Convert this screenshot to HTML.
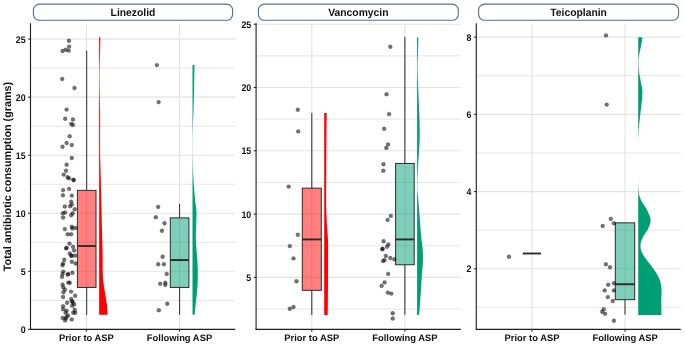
<!DOCTYPE html>
<html><head><meta charset="utf-8"><style>
html,body{margin:0;padding:0;background:#fff;}
body{width:685px;height:345px;position:relative;overflow:hidden;}
text{font-family:"Liberation Sans",sans-serif;font-weight:bold;fill:#111;text-rendering:geometricPrecision;}
.tk{font-size:9.6px;}
.xl{font-size:9.4px;}
.st{font-size:10.7px;}
.yt{font-size:10.8px;}
</style></head><body>
<svg width="685" height="345" viewBox="0 0 685 345" style="position:absolute;left:0;top:0;will-change:transform">
<line x1="30.5" x2="235.2" y1="300.33" y2="300.33" stroke="#e3e3e3" stroke-width="0.9"/>
<line x1="30.5" x2="235.2" y1="242.28" y2="242.28" stroke="#e3e3e3" stroke-width="0.9"/>
<line x1="30.5" x2="235.2" y1="184.23" y2="184.23" stroke="#e3e3e3" stroke-width="0.9"/>
<line x1="30.5" x2="235.2" y1="126.18" y2="126.18" stroke="#e3e3e3" stroke-width="0.9"/>
<line x1="30.5" x2="235.2" y1="68.13" y2="68.13" stroke="#e3e3e3" stroke-width="0.9"/>
<line x1="30.5" x2="235.2" y1="271.30" y2="271.30" stroke="#e3e3e3" stroke-width="1.1"/>
<line x1="30.5" x2="235.2" y1="213.25" y2="213.25" stroke="#e3e3e3" stroke-width="1.1"/>
<line x1="30.5" x2="235.2" y1="155.20" y2="155.20" stroke="#e3e3e3" stroke-width="1.1"/>
<line x1="30.5" x2="235.2" y1="97.15" y2="97.15" stroke="#e3e3e3" stroke-width="1.1"/>
<line x1="30.5" x2="235.2" y1="39.10" y2="39.10" stroke="#e3e3e3" stroke-width="1.1"/>
<line x1="86.4" x2="86.4" y1="23.2" y2="329.35" stroke="#e3e3e3" stroke-width="1.1"/>
<line x1="179.5" x2="179.5" y1="23.2" y2="329.35" stroke="#e3e3e3" stroke-width="1.1"/>
<line x1="256.1" x2="460.9" y1="309.05" y2="309.05" stroke="#e3e3e3" stroke-width="0.9"/>
<line x1="256.1" x2="460.9" y1="245.75" y2="245.75" stroke="#e3e3e3" stroke-width="0.9"/>
<line x1="256.1" x2="460.9" y1="182.45" y2="182.45" stroke="#e3e3e3" stroke-width="0.9"/>
<line x1="256.1" x2="460.9" y1="119.15" y2="119.15" stroke="#e3e3e3" stroke-width="0.9"/>
<line x1="256.1" x2="460.9" y1="55.85" y2="55.85" stroke="#e3e3e3" stroke-width="0.9"/>
<line x1="256.1" x2="460.9" y1="277.40" y2="277.40" stroke="#e3e3e3" stroke-width="1.1"/>
<line x1="256.1" x2="460.9" y1="214.10" y2="214.10" stroke="#e3e3e3" stroke-width="1.1"/>
<line x1="256.1" x2="460.9" y1="150.80" y2="150.80" stroke="#e3e3e3" stroke-width="1.1"/>
<line x1="256.1" x2="460.9" y1="87.50" y2="87.50" stroke="#e3e3e3" stroke-width="1.1"/>
<line x1="256.1" x2="460.9" y1="24.20" y2="24.20" stroke="#e3e3e3" stroke-width="1.1"/>
<line x1="311.8" x2="311.8" y1="23.2" y2="329.35" stroke="#e3e3e3" stroke-width="1.1"/>
<line x1="404.9" x2="404.9" y1="23.2" y2="329.35" stroke="#e3e3e3" stroke-width="1.1"/>
<line x1="476.3" x2="680.8" y1="307.41" y2="307.41" stroke="#e3e3e3" stroke-width="0.9"/>
<line x1="476.3" x2="680.8" y1="230.19" y2="230.19" stroke="#e3e3e3" stroke-width="0.9"/>
<line x1="476.3" x2="680.8" y1="152.97" y2="152.97" stroke="#e3e3e3" stroke-width="0.9"/>
<line x1="476.3" x2="680.8" y1="75.75" y2="75.75" stroke="#e3e3e3" stroke-width="0.9"/>
<line x1="476.3" x2="680.8" y1="268.80" y2="268.80" stroke="#e3e3e3" stroke-width="1.1"/>
<line x1="476.3" x2="680.8" y1="191.58" y2="191.58" stroke="#e3e3e3" stroke-width="1.1"/>
<line x1="476.3" x2="680.8" y1="114.36" y2="114.36" stroke="#e3e3e3" stroke-width="1.1"/>
<line x1="476.3" x2="680.8" y1="37.14" y2="37.14" stroke="#e3e3e3" stroke-width="1.1"/>
<line x1="532.0" x2="532.0" y1="23.2" y2="329.35" stroke="#e3e3e3" stroke-width="1.1"/>
<line x1="625.1" x2="625.1" y1="23.2" y2="329.35" stroke="#e3e3e3" stroke-width="1.1"/>
<path d="M99.15,37.20 L100.35,37.20 L100.33,38.95 L100.31,40.69 L100.29,42.44 L100.26,44.18 L100.23,45.93 L100.20,47.67 L100.15,49.42 L100.10,51.16 L100.05,52.91 L100.00,54.65 L99.94,56.40 L99.90,58.14 L99.85,59.89 L99.81,61.63 L99.76,63.38 L99.72,65.12 L99.67,66.87 L99.63,68.62 L99.60,70.36 L99.57,72.11 L99.55,73.85 L99.55,75.60 L99.55,77.34 L99.56,79.09 L99.58,80.83 L99.59,82.58 L99.61,84.32 L99.63,86.07 L99.65,87.81 L99.67,89.56 L99.69,91.30 L99.72,93.05 L99.76,94.79 L99.79,96.54 L99.83,98.28 L99.86,100.03 L99.89,101.78 L99.93,103.52 L99.95,105.27 L99.98,107.01 L100.01,108.76 L100.04,110.50 L100.07,112.25 L100.10,113.99 L100.12,115.74 L100.14,117.48 L100.15,119.23 L100.15,120.97 L100.14,122.72 L100.14,124.46 L100.13,126.21 L100.12,127.95 L100.10,129.70 L100.09,131.45 L100.08,133.19 L100.07,134.94 L100.06,136.68 L100.05,138.43 L100.05,140.17 L100.05,141.92 L100.06,143.66 L100.07,145.41 L100.08,147.15 L100.09,148.90 L100.11,150.64 L100.12,152.39 L100.14,154.13 L100.16,155.88 L100.19,157.62 L100.23,159.37 L100.28,161.12 L100.33,162.86 L100.39,164.61 L100.44,166.35 L100.50,168.10 L100.55,169.84 L100.59,171.59 L100.64,173.33 L100.69,175.08 L100.73,176.82 L100.78,178.57 L100.83,180.31 L100.87,182.06 L100.92,183.80 L100.96,185.55 L101.01,187.29 L101.06,189.04 L101.11,190.78 L101.16,192.53 L101.20,194.28 L101.25,196.02 L101.30,197.77 L101.34,199.51 L101.38,201.26 L101.42,203.00 L101.45,204.75 L101.49,206.49 L101.53,208.24 L101.56,209.98 L101.59,211.73 L101.63,213.47 L101.66,215.22 L101.69,216.96 L101.72,218.71 L101.76,220.45 L101.79,222.20 L101.82,223.95 L101.86,225.69 L101.89,227.44 L101.93,229.18 L101.97,230.93 L102.02,232.67 L102.07,234.42 L102.12,236.16 L102.18,237.91 L102.23,239.65 L102.29,241.40 L102.35,243.14 L102.41,244.89 L102.46,246.63 L102.51,248.38 L102.55,250.12 L102.59,251.87 L102.62,253.62 L102.64,255.36 L102.65,257.11 L102.65,258.85 L102.65,260.60 L102.65,262.34 L102.65,264.09 L102.65,265.83 L102.65,267.58 L102.65,269.32 L102.68,271.07 L102.74,272.81 L102.81,274.56 L102.90,276.30 L103.00,278.05 L103.11,279.79 L103.29,281.54 L103.50,283.28 L103.74,285.03 L103.99,286.78 L104.29,288.52 L104.60,290.27 L104.92,292.01 L105.21,293.76 L105.49,295.50 L105.77,297.25 L106.04,298.99 L106.31,300.74 L106.60,302.48 L106.87,304.23 L107.09,305.97 L107.23,307.72 L107.35,309.46 L107.45,311.21 L107.52,312.95 L107.55,314.70 L99.15,314.70 Z" fill="#ff0000"/>
<path d="M192.50,65.00 L194.50,65.00 L194.47,66.57 L194.44,68.14 L194.41,69.71 L194.37,71.28 L194.34,72.86 L194.31,74.43 L194.28,76.00 L194.25,77.57 L194.22,79.14 L194.19,80.71 L194.16,82.28 L194.13,83.85 L194.10,85.42 L194.07,86.99 L194.04,88.57 L194.01,90.14 L193.98,91.71 L193.95,93.28 L193.92,94.85 L193.88,96.42 L193.85,97.99 L193.81,99.56 L193.77,101.13 L193.73,102.71 L193.68,104.28 L193.64,105.85 L193.59,107.42 L193.53,108.99 L193.48,110.56 L193.42,112.13 L193.36,113.70 L193.29,115.27 L193.23,116.85 L193.16,118.42 L193.10,119.99 L193.04,121.56 L193.00,123.13 L192.95,124.70 L192.91,126.27 L192.86,127.84 L192.82,129.41 L192.78,130.98 L192.74,132.56 L192.71,134.13 L192.68,135.70 L192.66,137.27 L192.65,138.84 L192.65,140.41 L192.65,141.98 L192.65,143.55 L192.65,145.12 L192.65,146.70 L192.65,148.27 L192.65,149.84 L192.65,151.41 L192.65,152.98 L192.66,154.55 L192.69,156.12 L192.71,157.69 L192.74,159.26 L192.76,160.84 L192.79,162.41 L192.83,163.98 L192.87,165.55 L192.91,167.12 L192.96,168.69 L193.01,170.26 L193.07,171.83 L193.14,173.40 L193.22,174.97 L193.30,176.55 L193.39,178.12 L193.48,179.69 L193.58,181.26 L193.68,182.83 L193.78,184.40 L193.89,185.97 L194.01,187.54 L194.13,189.11 L194.25,190.69 L194.39,192.26 L194.52,193.83 L194.67,195.40 L194.81,196.97 L194.96,198.54 L195.11,200.11 L195.28,201.68 L195.47,203.25 L195.68,204.83 L195.89,206.40 L196.08,207.97 L196.26,209.54 L196.39,211.11 L196.48,212.68 L196.50,214.25 L196.48,215.82 L196.42,217.39 L196.36,218.96 L196.28,220.54 L196.22,222.11 L196.16,223.68 L196.10,225.25 L196.03,226.82 L195.96,228.39 L195.90,229.96 L195.85,231.53 L195.82,233.10 L195.80,234.68 L195.81,236.25 L195.84,237.82 L195.89,239.39 L195.95,240.96 L196.04,242.53 L196.13,244.10 L196.23,245.67 L196.34,247.24 L196.46,248.82 L196.58,250.39 L196.69,251.96 L196.80,253.53 L196.91,255.10 L197.02,256.67 L197.16,258.24 L197.30,259.81 L197.44,261.38 L197.54,262.95 L197.60,264.53 L197.64,266.10 L197.68,267.67 L197.71,269.24 L197.74,270.81 L197.76,272.38 L197.78,273.95 L197.79,275.52 L197.80,277.09 L197.79,278.67 L197.76,280.24 L197.69,281.81 L197.61,283.38 L197.51,284.95 L197.40,286.52 L197.27,288.09 L197.14,289.66 L197.02,291.23 L196.89,292.81 L196.76,294.38 L196.60,295.95 L196.43,297.52 L196.25,299.09 L196.07,300.66 L195.89,302.23 L195.72,303.80 L195.56,305.37 L195.40,306.94 L195.23,308.52 L195.07,310.09 L194.92,311.66 L194.76,313.23 L194.60,314.80 L192.50,314.80 Z" fill="#009e73"/>
<path d="M324.20,113.00 L326.70,113.00 L326.68,114.27 L326.67,115.54 L326.65,116.81 L326.63,118.08 L326.62,119.35 L326.60,120.62 L326.58,121.89 L326.57,123.16 L326.56,124.43 L326.54,125.70 L326.53,126.97 L326.52,128.25 L326.50,129.52 L326.49,130.79 L326.48,132.06 L326.47,133.33 L326.46,134.60 L326.45,135.87 L326.44,137.14 L326.43,138.41 L326.42,139.68 L326.42,140.95 L326.41,142.22 L326.40,143.49 L326.39,144.76 L326.38,146.03 L326.37,147.30 L326.37,148.57 L326.36,149.84 L326.35,151.11 L326.34,152.38 L326.34,153.65 L326.33,154.92 L326.32,156.19 L326.31,157.47 L326.31,158.74 L326.30,160.01 L326.29,161.28 L326.28,162.55 L326.28,163.82 L326.27,165.09 L326.26,166.36 L326.25,167.63 L326.24,168.90 L326.24,170.17 L326.23,171.44 L326.22,172.71 L326.21,173.98 L326.20,175.25 L326.19,176.52 L326.18,177.79 L326.18,179.06 L326.17,180.33 L326.16,181.60 L326.15,182.87 L326.15,184.14 L326.14,185.42 L326.13,186.69 L326.13,187.96 L326.12,189.23 L326.12,190.50 L326.11,191.77 L326.11,193.04 L326.11,194.31 L326.10,195.58 L326.10,196.85 L326.10,198.12 L326.10,199.39 L326.10,200.66 L326.11,201.93 L326.12,203.20 L326.15,204.47 L326.17,205.74 L326.21,207.01 L326.25,208.28 L326.29,209.55 L326.33,210.82 L326.38,212.09 L326.43,213.36 L326.48,214.64 L326.53,215.91 L326.59,217.18 L326.64,218.45 L326.69,219.72 L326.74,220.99 L326.80,222.26 L326.88,223.53 L326.96,224.80 L327.04,226.07 L327.13,227.34 L327.23,228.61 L327.32,229.88 L327.42,231.15 L327.51,232.42 L327.61,233.69 L327.70,234.96 L327.78,236.23 L327.86,237.50 L327.93,238.77 L327.99,240.04 L328.04,241.31 L328.07,242.58 L328.09,243.86 L328.10,245.13 L328.10,246.40 L328.10,247.67 L328.10,248.94 L328.10,250.21 L328.10,251.48 L328.09,252.75 L328.09,254.02 L328.09,255.29 L328.09,256.56 L328.08,257.83 L328.08,259.10 L328.08,260.37 L328.07,261.64 L328.07,262.91 L328.06,264.18 L328.06,265.45 L328.05,266.72 L328.05,267.99 L328.04,269.26 L328.04,270.53 L328.03,271.81 L328.03,273.08 L328.02,274.35 L328.02,275.62 L328.01,276.89 L328.01,278.16 L328.00,279.43 L328.00,280.70 L327.99,281.97 L327.98,283.24 L327.98,284.51 L327.97,285.78 L327.96,287.05 L327.95,288.32 L327.94,289.59 L327.94,290.86 L327.93,292.13 L327.92,293.40 L327.91,294.67 L327.89,295.94 L327.88,297.21 L327.87,298.48 L327.86,299.75 L327.85,301.03 L327.84,302.30 L327.82,303.57 L327.81,304.84 L327.80,306.11 L327.78,307.38 L327.77,308.65 L327.76,309.92 L327.74,311.19 L327.73,312.46 L327.71,313.73 L327.70,315.00 L324.20,315.00 Z" fill="#ff0000"/>
<path d="M417.10,37.20 L418.40,37.20 L418.37,38.95 L418.33,40.69 L418.29,42.44 L418.25,44.19 L418.21,45.93 L418.16,47.68 L418.12,49.43 L418.06,51.17 L418.00,52.92 L417.92,54.67 L417.85,56.41 L417.77,58.16 L417.70,59.91 L417.65,61.65 L417.61,63.40 L417.60,65.14 L417.61,66.89 L417.63,68.64 L417.66,70.38 L417.69,72.13 L417.73,73.88 L417.78,75.62 L417.83,77.37 L417.88,79.12 L417.92,80.86 L417.98,82.61 L418.04,84.36 L418.10,86.10 L418.17,87.85 L418.25,89.60 L418.32,91.34 L418.40,93.09 L418.48,94.84 L418.56,96.58 L418.63,98.33 L418.70,100.08 L418.78,101.82 L418.85,103.57 L418.93,105.32 L419.01,107.06 L419.09,108.81 L419.17,110.55 L419.25,112.30 L419.32,114.05 L419.38,115.79 L419.44,117.54 L419.48,119.29 L419.52,121.03 L419.56,122.78 L419.59,124.53 L419.62,126.27 L419.65,128.02 L419.67,129.77 L419.69,131.51 L419.70,133.26 L419.70,135.01 L419.67,136.75 L419.63,138.50 L419.57,140.25 L419.50,141.99 L419.42,143.74 L419.33,145.49 L419.24,147.23 L419.15,148.98 L419.06,150.73 L418.96,152.47 L418.85,154.22 L418.72,155.96 L418.60,157.71 L418.47,159.46 L418.34,161.20 L418.22,162.95 L418.12,164.70 L418.02,166.44 L417.93,168.19 L417.83,169.94 L417.75,171.68 L417.67,173.43 L417.59,175.18 L417.53,176.92 L417.48,178.67 L417.43,180.42 L417.39,182.16 L417.35,183.91 L417.32,185.66 L417.30,187.40 L417.33,189.15 L417.44,190.90 L417.62,192.64 L417.83,194.39 L418.02,196.14 L418.17,197.88 L418.31,199.63 L418.45,201.37 L418.58,203.12 L418.71,204.87 L418.84,206.61 L418.97,208.36 L419.10,210.11 L419.23,211.85 L419.36,213.60 L419.50,215.35 L419.63,217.09 L419.76,218.84 L419.89,220.59 L420.02,222.33 L420.15,224.08 L420.28,225.83 L420.41,227.57 L420.55,229.32 L420.69,231.07 L420.84,232.81 L421.00,234.56 L421.16,236.31 L421.35,238.05 L421.56,239.80 L421.78,241.55 L422.01,243.29 L422.22,245.04 L422.42,246.78 L422.59,248.53 L422.72,250.28 L422.84,252.02 L422.94,253.77 L423.00,255.52 L422.99,257.26 L422.97,259.01 L422.93,260.76 L422.88,262.50 L422.80,264.25 L422.67,266.00 L422.51,267.74 L422.34,269.49 L422.16,271.24 L422.00,272.98 L421.87,274.73 L421.75,276.48 L421.64,278.22 L421.54,279.97 L421.43,281.72 L421.33,283.46 L421.23,285.21 L421.13,286.96 L421.02,288.70 L420.91,290.45 L420.79,292.19 L420.68,293.94 L420.56,295.69 L420.43,297.43 L420.31,299.18 L420.19,300.93 L420.06,302.67 L419.93,304.42 L419.80,306.17 L419.66,307.91 L419.53,309.66 L419.39,311.41 L419.24,313.15 L419.10,314.90 L417.10,314.90 Z" fill="#009e73"/>
<path d="M638.20,37.20 L642.40,37.20 L642.17,38.95 L641.92,40.69 L641.64,42.44 L641.34,44.19 L641.02,45.93 L640.64,47.68 L640.23,49.43 L639.85,51.17 L639.53,52.92 L639.19,54.67 L638.88,56.41 L638.63,58.16 L638.50,59.91 L638.51,61.65 L638.54,63.40 L638.59,65.14 L638.65,66.89 L638.73,68.64 L638.82,70.38 L639.01,72.13 L639.29,73.88 L639.64,75.62 L640.00,77.37 L640.35,79.12 L640.65,80.86 L640.99,82.61 L641.35,84.36 L641.70,86.10 L642.01,87.85 L642.25,89.60 L642.38,91.34 L642.39,93.09 L642.33,94.84 L642.22,96.58 L642.08,98.33 L641.91,100.08 L641.73,101.82 L641.54,103.57 L641.37,105.32 L641.18,107.06 L640.97,108.81 L640.75,110.55 L640.53,112.30 L640.31,114.05 L640.11,115.79 L639.92,117.54 L639.73,119.29 L639.55,121.03 L639.37,122.78 L639.20,124.53 L639.02,126.27 L638.86,128.02 L638.72,129.77 L638.60,131.51 L638.49,133.26 L638.39,135.01 L638.32,136.75 L638.25,138.50 L638.21,140.25 L638.20,141.99 L638.20,143.74 L638.20,145.49 L638.20,147.23 L638.20,148.98 L638.20,150.73 L638.20,152.47 L638.20,154.22 L638.20,155.96 L638.20,157.71 L638.20,159.46 L638.20,161.20 L638.20,162.95 L638.20,164.70 L638.20,166.44 L638.20,168.19 L638.20,169.94 L638.20,171.68 L638.20,173.43 L638.20,175.18 L638.20,176.92 L638.22,178.67 L638.24,180.42 L638.28,182.16 L638.32,183.91 L638.36,185.66 L638.42,187.40 L638.50,189.15 L638.60,190.90 L638.74,192.64 L639.06,194.39 L639.55,196.14 L640.16,197.88 L640.84,199.63 L641.59,201.37 L642.59,203.12 L643.77,204.87 L644.98,206.61 L646.13,208.36 L647.07,210.11 L647.85,211.85 L648.64,213.60 L649.39,215.35 L650.01,217.09 L650.44,218.84 L650.60,220.59 L650.43,222.33 L650.00,224.08 L649.37,225.83 L648.66,227.57 L647.92,229.32 L646.88,231.07 L645.63,232.81 L644.37,234.56 L643.33,236.31 L642.55,238.05 L641.79,239.80 L641.12,241.55 L640.66,243.29 L640.50,245.04 L640.55,246.78 L640.66,248.53 L640.94,250.28 L641.63,252.02 L642.59,253.77 L643.64,255.52 L644.69,257.26 L645.91,259.01 L647.28,260.76 L648.70,262.50 L650.09,264.25 L651.38,266.00 L652.66,267.74 L653.93,269.49 L655.16,271.24 L656.30,272.98 L657.31,274.73 L658.22,276.48 L659.09,278.22 L659.84,279.97 L660.36,281.72 L660.71,283.46 L661.03,285.21 L661.29,286.96 L661.49,288.70 L661.59,290.45 L661.59,292.19 L661.54,293.94 L661.46,295.69 L661.38,297.43 L661.32,299.18 L661.30,300.93 L661.31,302.67 L661.34,304.42 L661.37,306.17 L661.39,307.91 L661.40,309.66 L661.40,311.41 L661.40,313.15 L661.40,314.90 L638.20,314.90 Z" fill="#009e73"/>
<line x1="86.7" x2="86.7" y1="50.71" y2="190.38" stroke="#2b2b2b" stroke-width="1"/>
<line x1="86.7" x2="86.7" y1="287.44" y2="314.95" stroke="#2b2b2b" stroke-width="1"/>
<rect x="77.40" y="190.38" width="18.60" height="97.06" fill="#ff0000" fill-opacity="0.5" stroke="#2b2b2b" stroke-width="1"/>
<line x1="77.40" x2="96.00" y1="245.99" y2="245.99" stroke="#2b2b2b" stroke-width="1.9"/>
<line x1="179.6" x2="179.6" y1="203.96" y2="217.89" stroke="#2b2b2b" stroke-width="1"/>
<line x1="179.6" x2="179.6" y1="287.44" y2="314.72" stroke="#2b2b2b" stroke-width="1"/>
<rect x="170.30" y="217.89" width="18.60" height="69.54" fill="#009e73" fill-opacity="0.5" stroke="#2b2b2b" stroke-width="1"/>
<line x1="170.30" x2="188.90" y1="260.04" y2="260.04" stroke="#2b2b2b" stroke-width="1.9"/>
<line x1="311.8" x2="311.8" y1="112.82" y2="188.15" stroke="#2b2b2b" stroke-width="1"/>
<line x1="311.8" x2="311.8" y1="290.31" y2="315.00" stroke="#2b2b2b" stroke-width="1"/>
<rect x="302.30" y="188.15" width="19.00" height="102.17" fill="#ff0000" fill-opacity="0.5" stroke="#2b2b2b" stroke-width="1"/>
<line x1="302.30" x2="321.30" y1="239.42" y2="239.42" stroke="#2b2b2b" stroke-width="1.9"/>
<line x1="404.9" x2="404.9" y1="36.86" y2="163.46" stroke="#2b2b2b" stroke-width="1"/>
<line x1="404.9" x2="404.9" y1="264.74" y2="314.75" stroke="#2b2b2b" stroke-width="1"/>
<rect x="395.60" y="163.46" width="18.60" height="101.28" fill="#009e73" fill-opacity="0.5" stroke="#2b2b2b" stroke-width="1"/>
<line x1="395.60" x2="414.20" y1="239.42" y2="239.42" stroke="#2b2b2b" stroke-width="1.9"/>
<line x1="625.0" x2="625.0" y1="299.69" y2="314.59" stroke="#2b2b2b" stroke-width="1"/>
<rect x="615.30" y="222.85" width="19.40" height="76.83" fill="#009e73" fill-opacity="0.5" stroke="#2b2b2b" stroke-width="1"/>
<line x1="615.30" x2="634.70" y1="284.24" y2="284.24" stroke="#2b2b2b" stroke-width="1.9"/>
<line x1="522.8" x2="541.0" y1="253.5" y2="253.5" stroke="#2b2b2b" stroke-width="1.9"/>
<circle cx="68.9" cy="40.8" r="1.95" fill="rgba(0,0,0,0.55)" stroke="rgba(0,0,0,0.3)" stroke-width="0.7"/>
<circle cx="69.1" cy="46.6" r="1.95" fill="rgba(0,0,0,0.55)" stroke="rgba(0,0,0,0.3)" stroke-width="0.7"/>
<circle cx="62.5" cy="51.0" r="1.95" fill="rgba(0,0,0,0.55)" stroke="rgba(0,0,0,0.3)" stroke-width="0.7"/>
<circle cx="65.7" cy="49.8" r="1.95" fill="rgba(0,0,0,0.55)" stroke="rgba(0,0,0,0.3)" stroke-width="0.7"/>
<circle cx="68.7" cy="50.6" r="1.95" fill="rgba(0,0,0,0.55)" stroke="rgba(0,0,0,0.3)" stroke-width="0.7"/>
<circle cx="62.2" cy="79.0" r="1.95" fill="rgba(0,0,0,0.55)" stroke="rgba(0,0,0,0.3)" stroke-width="0.7"/>
<circle cx="74.5" cy="88.0" r="1.95" fill="rgba(0,0,0,0.55)" stroke="rgba(0,0,0,0.3)" stroke-width="0.7"/>
<circle cx="66.6" cy="109.6" r="1.95" fill="rgba(0,0,0,0.55)" stroke="rgba(0,0,0,0.3)" stroke-width="0.7"/>
<circle cx="65.2" cy="118.7" r="1.95" fill="rgba(0,0,0,0.55)" stroke="rgba(0,0,0,0.3)" stroke-width="0.7"/>
<circle cx="73.0" cy="119.5" r="1.95" fill="rgba(0,0,0,0.55)" stroke="rgba(0,0,0,0.3)" stroke-width="0.7"/>
<circle cx="71.2" cy="123.9" r="1.95" fill="rgba(0,0,0,0.55)" stroke="rgba(0,0,0,0.3)" stroke-width="0.7"/>
<circle cx="73.0" cy="124.9" r="1.95" fill="rgba(0,0,0,0.55)" stroke="rgba(0,0,0,0.3)" stroke-width="0.7"/>
<circle cx="69.7" cy="136.3" r="1.95" fill="rgba(0,0,0,0.55)" stroke="rgba(0,0,0,0.3)" stroke-width="0.7"/>
<circle cx="66.6" cy="143.0" r="1.95" fill="rgba(0,0,0,0.55)" stroke="rgba(0,0,0,0.3)" stroke-width="0.7"/>
<circle cx="71.8" cy="145.0" r="1.95" fill="rgba(0,0,0,0.55)" stroke="rgba(0,0,0,0.3)" stroke-width="0.7"/>
<circle cx="62.5" cy="146.7" r="1.95" fill="rgba(0,0,0,0.55)" stroke="rgba(0,0,0,0.3)" stroke-width="0.7"/>
<circle cx="71.8" cy="158.0" r="1.95" fill="rgba(0,0,0,0.55)" stroke="rgba(0,0,0,0.3)" stroke-width="0.7"/>
<circle cx="66.6" cy="164.7" r="1.95" fill="rgba(0,0,0,0.55)" stroke="rgba(0,0,0,0.3)" stroke-width="0.7"/>
<circle cx="66.0" cy="170.7" r="1.95" fill="rgba(0,0,0,0.55)" stroke="rgba(0,0,0,0.3)" stroke-width="0.7"/>
<circle cx="63.7" cy="174.6" r="1.95" fill="rgba(0,0,0,0.55)" stroke="rgba(0,0,0,0.3)" stroke-width="0.7"/>
<circle cx="67.6" cy="177.2" r="1.95" fill="rgba(0,0,0,0.55)" stroke="rgba(0,0,0,0.3)" stroke-width="0.7"/>
<circle cx="68.9" cy="178.2" r="1.95" fill="rgba(0,0,0,0.55)" stroke="rgba(0,0,0,0.3)" stroke-width="0.7"/>
<circle cx="73.3" cy="179.6" r="1.95" fill="rgba(0,0,0,0.55)" stroke="rgba(0,0,0,0.3)" stroke-width="0.7"/>
<circle cx="73.8" cy="180.3" r="1.95" fill="rgba(0,0,0,0.55)" stroke="rgba(0,0,0,0.3)" stroke-width="0.7"/>
<circle cx="63.1" cy="190.1" r="1.95" fill="rgba(0,0,0,0.55)" stroke="rgba(0,0,0,0.3)" stroke-width="0.7"/>
<circle cx="69.1" cy="188.9" r="1.95" fill="rgba(0,0,0,0.55)" stroke="rgba(0,0,0,0.3)" stroke-width="0.7"/>
<circle cx="62.9" cy="195.3" r="1.95" fill="rgba(0,0,0,0.55)" stroke="rgba(0,0,0,0.3)" stroke-width="0.7"/>
<circle cx="71.8" cy="195.6" r="1.95" fill="rgba(0,0,0,0.55)" stroke="rgba(0,0,0,0.3)" stroke-width="0.7"/>
<circle cx="71.2" cy="201.6" r="1.95" fill="rgba(0,0,0,0.55)" stroke="rgba(0,0,0,0.3)" stroke-width="0.7"/>
<circle cx="71.8" cy="204.5" r="1.95" fill="rgba(0,0,0,0.55)" stroke="rgba(0,0,0,0.3)" stroke-width="0.7"/>
<circle cx="70.1" cy="206.3" r="1.95" fill="rgba(0,0,0,0.55)" stroke="rgba(0,0,0,0.3)" stroke-width="0.7"/>
<circle cx="64.8" cy="206.5" r="1.95" fill="rgba(0,0,0,0.55)" stroke="rgba(0,0,0,0.3)" stroke-width="0.7"/>
<circle cx="74.7" cy="209.2" r="1.95" fill="rgba(0,0,0,0.55)" stroke="rgba(0,0,0,0.3)" stroke-width="0.7"/>
<circle cx="62.8" cy="213.3" r="1.95" fill="rgba(0,0,0,0.55)" stroke="rgba(0,0,0,0.3)" stroke-width="0.7"/>
<circle cx="65.1" cy="212.5" r="1.95" fill="rgba(0,0,0,0.55)" stroke="rgba(0,0,0,0.3)" stroke-width="0.7"/>
<circle cx="72.7" cy="213.3" r="1.95" fill="rgba(0,0,0,0.55)" stroke="rgba(0,0,0,0.3)" stroke-width="0.7"/>
<circle cx="63.1" cy="217.5" r="1.95" fill="rgba(0,0,0,0.55)" stroke="rgba(0,0,0,0.3)" stroke-width="0.7"/>
<circle cx="71.2" cy="215.2" r="1.95" fill="rgba(0,0,0,0.55)" stroke="rgba(0,0,0,0.3)" stroke-width="0.7"/>
<circle cx="64.8" cy="229.1" r="1.95" fill="rgba(0,0,0,0.55)" stroke="rgba(0,0,0,0.3)" stroke-width="0.7"/>
<circle cx="71.8" cy="226.8" r="1.95" fill="rgba(0,0,0,0.55)" stroke="rgba(0,0,0,0.3)" stroke-width="0.7"/>
<circle cx="72.4" cy="228.5" r="1.95" fill="rgba(0,0,0,0.55)" stroke="rgba(0,0,0,0.3)" stroke-width="0.7"/>
<circle cx="75.6" cy="228.0" r="1.95" fill="rgba(0,0,0,0.55)" stroke="rgba(0,0,0,0.3)" stroke-width="0.7"/>
<circle cx="67.7" cy="234.3" r="1.95" fill="rgba(0,0,0,0.55)" stroke="rgba(0,0,0,0.3)" stroke-width="0.7"/>
<circle cx="71.2" cy="234.3" r="1.95" fill="rgba(0,0,0,0.55)" stroke="rgba(0,0,0,0.3)" stroke-width="0.7"/>
<circle cx="69.5" cy="243.6" r="1.95" fill="rgba(0,0,0,0.55)" stroke="rgba(0,0,0,0.3)" stroke-width="0.7"/>
<circle cx="66.6" cy="247.7" r="1.95" fill="rgba(0,0,0,0.55)" stroke="rgba(0,0,0,0.3)" stroke-width="0.7"/>
<circle cx="66.1" cy="248.4" r="1.95" fill="rgba(0,0,0,0.55)" stroke="rgba(0,0,0,0.3)" stroke-width="0.7"/>
<circle cx="73.0" cy="246.8" r="1.95" fill="rgba(0,0,0,0.55)" stroke="rgba(0,0,0,0.3)" stroke-width="0.7"/>
<circle cx="74.1" cy="250.4" r="1.95" fill="rgba(0,0,0,0.55)" stroke="rgba(0,0,0,0.3)" stroke-width="0.7"/>
<circle cx="69.8" cy="253.5" r="1.95" fill="rgba(0,0,0,0.55)" stroke="rgba(0,0,0,0.3)" stroke-width="0.7"/>
<circle cx="71.8" cy="256.0" r="1.95" fill="rgba(0,0,0,0.55)" stroke="rgba(0,0,0,0.3)" stroke-width="0.7"/>
<circle cx="71.1" cy="255.5" r="1.95" fill="rgba(0,0,0,0.55)" stroke="rgba(0,0,0,0.3)" stroke-width="0.7"/>
<circle cx="75.1" cy="255.6" r="1.95" fill="rgba(0,0,0,0.55)" stroke="rgba(0,0,0,0.3)" stroke-width="0.7"/>
<circle cx="64.3" cy="259.8" r="1.95" fill="rgba(0,0,0,0.55)" stroke="rgba(0,0,0,0.3)" stroke-width="0.7"/>
<circle cx="63.1" cy="263.5" r="1.95" fill="rgba(0,0,0,0.55)" stroke="rgba(0,0,0,0.3)" stroke-width="0.7"/>
<circle cx="71.8" cy="261.8" r="1.95" fill="rgba(0,0,0,0.55)" stroke="rgba(0,0,0,0.3)" stroke-width="0.7"/>
<circle cx="75.6" cy="263.5" r="1.95" fill="rgba(0,0,0,0.55)" stroke="rgba(0,0,0,0.3)" stroke-width="0.7"/>
<circle cx="62.5" cy="265.3" r="1.95" fill="rgba(0,0,0,0.55)" stroke="rgba(0,0,0,0.3)" stroke-width="0.7"/>
<circle cx="63.3" cy="271.6" r="1.95" fill="rgba(0,0,0,0.55)" stroke="rgba(0,0,0,0.3)" stroke-width="0.7"/>
<circle cx="62.5" cy="274.0" r="1.95" fill="rgba(0,0,0,0.55)" stroke="rgba(0,0,0,0.3)" stroke-width="0.7"/>
<circle cx="62.0" cy="276.9" r="1.95" fill="rgba(0,0,0,0.55)" stroke="rgba(0,0,0,0.3)" stroke-width="0.7"/>
<circle cx="68.3" cy="274.0" r="1.95" fill="rgba(0,0,0,0.55)" stroke="rgba(0,0,0,0.3)" stroke-width="0.7"/>
<circle cx="67.6" cy="274.6" r="1.95" fill="rgba(0,0,0,0.55)" stroke="rgba(0,0,0,0.3)" stroke-width="0.7"/>
<circle cx="72.4" cy="272.8" r="1.95" fill="rgba(0,0,0,0.55)" stroke="rgba(0,0,0,0.3)" stroke-width="0.7"/>
<circle cx="68.2" cy="282.6" r="1.95" fill="rgba(0,0,0,0.55)" stroke="rgba(0,0,0,0.3)" stroke-width="0.7"/>
<circle cx="69.8" cy="282.8" r="1.95" fill="rgba(0,0,0,0.55)" stroke="rgba(0,0,0,0.3)" stroke-width="0.7"/>
<circle cx="62.6" cy="284.6" r="1.95" fill="rgba(0,0,0,0.55)" stroke="rgba(0,0,0,0.3)" stroke-width="0.7"/>
<circle cx="63.3" cy="287.3" r="1.95" fill="rgba(0,0,0,0.55)" stroke="rgba(0,0,0,0.3)" stroke-width="0.7"/>
<circle cx="65.0" cy="289.7" r="1.95" fill="rgba(0,0,0,0.55)" stroke="rgba(0,0,0,0.3)" stroke-width="0.7"/>
<circle cx="63.4" cy="292.3" r="1.95" fill="rgba(0,0,0,0.55)" stroke="rgba(0,0,0,0.3)" stroke-width="0.7"/>
<circle cx="71.1" cy="291.6" r="1.95" fill="rgba(0,0,0,0.55)" stroke="rgba(0,0,0,0.3)" stroke-width="0.7"/>
<circle cx="75.2" cy="295.8" r="1.95" fill="rgba(0,0,0,0.55)" stroke="rgba(0,0,0,0.3)" stroke-width="0.7"/>
<circle cx="63.1" cy="297.0" r="1.95" fill="rgba(0,0,0,0.55)" stroke="rgba(0,0,0,0.3)" stroke-width="0.7"/>
<circle cx="71.2" cy="298.9" r="1.95" fill="rgba(0,0,0,0.55)" stroke="rgba(0,0,0,0.3)" stroke-width="0.7"/>
<circle cx="67.1" cy="302.7" r="1.95" fill="rgba(0,0,0,0.55)" stroke="rgba(0,0,0,0.3)" stroke-width="0.7"/>
<circle cx="72.0" cy="301.4" r="1.95" fill="rgba(0,0,0,0.55)" stroke="rgba(0,0,0,0.3)" stroke-width="0.7"/>
<circle cx="72.6" cy="302.0" r="1.95" fill="rgba(0,0,0,0.55)" stroke="rgba(0,0,0,0.3)" stroke-width="0.7"/>
<circle cx="74.2" cy="304.2" r="1.95" fill="rgba(0,0,0,0.55)" stroke="rgba(0,0,0,0.3)" stroke-width="0.7"/>
<circle cx="72.2" cy="305.7" r="1.95" fill="rgba(0,0,0,0.55)" stroke="rgba(0,0,0,0.3)" stroke-width="0.7"/>
<circle cx="63.1" cy="306.2" r="1.95" fill="rgba(0,0,0,0.55)" stroke="rgba(0,0,0,0.3)" stroke-width="0.7"/>
<circle cx="63.1" cy="309.3" r="1.95" fill="rgba(0,0,0,0.55)" stroke="rgba(0,0,0,0.3)" stroke-width="0.7"/>
<circle cx="66.6" cy="310.8" r="1.95" fill="rgba(0,0,0,0.55)" stroke="rgba(0,0,0,0.3)" stroke-width="0.7"/>
<circle cx="74.7" cy="309.8" r="1.95" fill="rgba(0,0,0,0.55)" stroke="rgba(0,0,0,0.3)" stroke-width="0.7"/>
<circle cx="65.6" cy="312.8" r="1.95" fill="rgba(0,0,0,0.55)" stroke="rgba(0,0,0,0.3)" stroke-width="0.7"/>
<circle cx="73.2" cy="312.8" r="1.95" fill="rgba(0,0,0,0.55)" stroke="rgba(0,0,0,0.3)" stroke-width="0.7"/>
<circle cx="75.2" cy="312.8" r="1.95" fill="rgba(0,0,0,0.55)" stroke="rgba(0,0,0,0.3)" stroke-width="0.7"/>
<circle cx="68.1" cy="315.4" r="1.95" fill="rgba(0,0,0,0.55)" stroke="rgba(0,0,0,0.3)" stroke-width="0.7"/>
<circle cx="62.6" cy="317.9" r="1.95" fill="rgba(0,0,0,0.55)" stroke="rgba(0,0,0,0.3)" stroke-width="0.7"/>
<circle cx="65.6" cy="318.4" r="1.95" fill="rgba(0,0,0,0.55)" stroke="rgba(0,0,0,0.3)" stroke-width="0.7"/>
<circle cx="65.1" cy="320.4" r="1.95" fill="rgba(0,0,0,0.55)" stroke="rgba(0,0,0,0.3)" stroke-width="0.7"/>
<circle cx="71.7" cy="319.4" r="1.95" fill="rgba(0,0,0,0.55)" stroke="rgba(0,0,0,0.3)" stroke-width="0.7"/>
<circle cx="66.6" cy="316.9" r="1.95" fill="rgba(0,0,0,0.55)" stroke="rgba(0,0,0,0.3)" stroke-width="0.7"/>
<circle cx="156.9" cy="65.1" r="1.95" fill="rgba(0,0,0,0.55)" stroke="rgba(0,0,0,0.3)" stroke-width="0.7"/>
<circle cx="158.6" cy="102.1" r="1.95" fill="rgba(0,0,0,0.55)" stroke="rgba(0,0,0,0.3)" stroke-width="0.7"/>
<circle cx="158.1" cy="206.9" r="1.95" fill="rgba(0,0,0,0.55)" stroke="rgba(0,0,0,0.3)" stroke-width="0.7"/>
<circle cx="155.8" cy="217.2" r="1.95" fill="rgba(0,0,0,0.55)" stroke="rgba(0,0,0,0.3)" stroke-width="0.7"/>
<circle cx="164.5" cy="223.3" r="1.95" fill="rgba(0,0,0,0.55)" stroke="rgba(0,0,0,0.3)" stroke-width="0.7"/>
<circle cx="161.9" cy="230.8" r="1.95" fill="rgba(0,0,0,0.55)" stroke="rgba(0,0,0,0.3)" stroke-width="0.7"/>
<circle cx="162.6" cy="256.7" r="1.95" fill="rgba(0,0,0,0.55)" stroke="rgba(0,0,0,0.3)" stroke-width="0.7"/>
<circle cx="158.2" cy="264.2" r="1.95" fill="rgba(0,0,0,0.55)" stroke="rgba(0,0,0,0.3)" stroke-width="0.7"/>
<circle cx="163.9" cy="264.2" r="1.95" fill="rgba(0,0,0,0.55)" stroke="rgba(0,0,0,0.3)" stroke-width="0.7"/>
<circle cx="166.7" cy="273.9" r="1.95" fill="rgba(0,0,0,0.55)" stroke="rgba(0,0,0,0.3)" stroke-width="0.7"/>
<circle cx="160.2" cy="283.8" r="1.95" fill="rgba(0,0,0,0.55)" stroke="rgba(0,0,0,0.3)" stroke-width="0.7"/>
<circle cx="165.3" cy="282.8" r="1.95" fill="rgba(0,0,0,0.55)" stroke="rgba(0,0,0,0.3)" stroke-width="0.7"/>
<circle cx="165.3" cy="284.9" r="1.95" fill="rgba(0,0,0,0.55)" stroke="rgba(0,0,0,0.3)" stroke-width="0.7"/>
<circle cx="167.3" cy="303.7" r="1.95" fill="rgba(0,0,0,0.55)" stroke="rgba(0,0,0,0.3)" stroke-width="0.7"/>
<circle cx="158.8" cy="310.2" r="1.95" fill="rgba(0,0,0,0.55)" stroke="rgba(0,0,0,0.3)" stroke-width="0.7"/>
<circle cx="297.8" cy="109.7" r="1.95" fill="rgba(0,0,0,0.55)" stroke="rgba(0,0,0,0.3)" stroke-width="0.7"/>
<circle cx="298.2" cy="131.4" r="1.95" fill="rgba(0,0,0,0.55)" stroke="rgba(0,0,0,0.3)" stroke-width="0.7"/>
<circle cx="288.7" cy="186.6" r="1.95" fill="rgba(0,0,0,0.55)" stroke="rgba(0,0,0,0.3)" stroke-width="0.7"/>
<circle cx="297.8" cy="234.7" r="1.95" fill="rgba(0,0,0,0.55)" stroke="rgba(0,0,0,0.3)" stroke-width="0.7"/>
<circle cx="289.8" cy="246.1" r="1.95" fill="rgba(0,0,0,0.55)" stroke="rgba(0,0,0,0.3)" stroke-width="0.7"/>
<circle cx="293.5" cy="258.4" r="1.95" fill="rgba(0,0,0,0.55)" stroke="rgba(0,0,0,0.3)" stroke-width="0.7"/>
<circle cx="296.5" cy="281.2" r="1.95" fill="rgba(0,0,0,0.55)" stroke="rgba(0,0,0,0.3)" stroke-width="0.7"/>
<circle cx="289.8" cy="308.8" r="1.95" fill="rgba(0,0,0,0.55)" stroke="rgba(0,0,0,0.3)" stroke-width="0.7"/>
<circle cx="293.5" cy="307.0" r="1.95" fill="rgba(0,0,0,0.55)" stroke="rgba(0,0,0,0.3)" stroke-width="0.7"/>
<circle cx="390.3" cy="46.8" r="1.95" fill="rgba(0,0,0,0.55)" stroke="rgba(0,0,0,0.3)" stroke-width="0.7"/>
<circle cx="386.5" cy="94.3" r="1.95" fill="rgba(0,0,0,0.55)" stroke="rgba(0,0,0,0.3)" stroke-width="0.7"/>
<circle cx="389.1" cy="114.1" r="1.95" fill="rgba(0,0,0,0.55)" stroke="rgba(0,0,0,0.3)" stroke-width="0.7"/>
<circle cx="384.2" cy="128.7" r="1.95" fill="rgba(0,0,0,0.55)" stroke="rgba(0,0,0,0.3)" stroke-width="0.7"/>
<circle cx="388.1" cy="144.4" r="1.95" fill="rgba(0,0,0,0.55)" stroke="rgba(0,0,0,0.3)" stroke-width="0.7"/>
<circle cx="386.3" cy="147.9" r="1.95" fill="rgba(0,0,0,0.55)" stroke="rgba(0,0,0,0.3)" stroke-width="0.7"/>
<circle cx="383.5" cy="164.2" r="1.95" fill="rgba(0,0,0,0.55)" stroke="rgba(0,0,0,0.3)" stroke-width="0.7"/>
<circle cx="383.3" cy="170.7" r="1.95" fill="rgba(0,0,0,0.55)" stroke="rgba(0,0,0,0.3)" stroke-width="0.7"/>
<circle cx="390.9" cy="215.9" r="1.95" fill="rgba(0,0,0,0.55)" stroke="rgba(0,0,0,0.3)" stroke-width="0.7"/>
<circle cx="387.6" cy="219.9" r="1.95" fill="rgba(0,0,0,0.55)" stroke="rgba(0,0,0,0.3)" stroke-width="0.7"/>
<circle cx="383.6" cy="241.2" r="1.95" fill="rgba(0,0,0,0.55)" stroke="rgba(0,0,0,0.3)" stroke-width="0.7"/>
<circle cx="388.4" cy="244.4" r="1.95" fill="rgba(0,0,0,0.55)" stroke="rgba(0,0,0,0.3)" stroke-width="0.7"/>
<circle cx="387.0" cy="246.8" r="1.95" fill="rgba(0,0,0,0.55)" stroke="rgba(0,0,0,0.3)" stroke-width="0.7"/>
<circle cx="382.6" cy="248.7" r="1.95" fill="rgba(0,0,0,0.55)" stroke="rgba(0,0,0,0.3)" stroke-width="0.7"/>
<circle cx="382.3" cy="249.2" r="1.95" fill="rgba(0,0,0,0.55)" stroke="rgba(0,0,0,0.3)" stroke-width="0.7"/>
<circle cx="385.8" cy="256.0" r="1.95" fill="rgba(0,0,0,0.55)" stroke="rgba(0,0,0,0.3)" stroke-width="0.7"/>
<circle cx="390.3" cy="258.0" r="1.95" fill="rgba(0,0,0,0.55)" stroke="rgba(0,0,0,0.3)" stroke-width="0.7"/>
<circle cx="394.3" cy="259.3" r="1.95" fill="rgba(0,0,0,0.55)" stroke="rgba(0,0,0,0.3)" stroke-width="0.7"/>
<circle cx="383.0" cy="261.0" r="1.95" fill="rgba(0,0,0,0.55)" stroke="rgba(0,0,0,0.3)" stroke-width="0.7"/>
<circle cx="384.6" cy="260.1" r="1.95" fill="rgba(0,0,0,0.55)" stroke="rgba(0,0,0,0.3)" stroke-width="0.7"/>
<circle cx="388.2" cy="273.9" r="1.95" fill="rgba(0,0,0,0.55)" stroke="rgba(0,0,0,0.3)" stroke-width="0.7"/>
<circle cx="384.6" cy="282.4" r="1.95" fill="rgba(0,0,0,0.55)" stroke="rgba(0,0,0,0.3)" stroke-width="0.7"/>
<circle cx="381.6" cy="285.9" r="1.95" fill="rgba(0,0,0,0.55)" stroke="rgba(0,0,0,0.3)" stroke-width="0.7"/>
<circle cx="387.8" cy="292.6" r="1.95" fill="rgba(0,0,0,0.55)" stroke="rgba(0,0,0,0.3)" stroke-width="0.7"/>
<circle cx="391.3" cy="293.6" r="1.95" fill="rgba(0,0,0,0.55)" stroke="rgba(0,0,0,0.3)" stroke-width="0.7"/>
<circle cx="392.7" cy="313.2" r="1.95" fill="rgba(0,0,0,0.55)" stroke="rgba(0,0,0,0.3)" stroke-width="0.7"/>
<circle cx="392.7" cy="318.5" r="1.95" fill="rgba(0,0,0,0.55)" stroke="rgba(0,0,0,0.3)" stroke-width="0.7"/>
<circle cx="509.0" cy="256.8" r="1.95" fill="rgba(0,0,0,0.55)" stroke="rgba(0,0,0,0.3)" stroke-width="0.7"/>
<circle cx="606.0" cy="35.4" r="1.95" fill="rgba(0,0,0,0.55)" stroke="rgba(0,0,0,0.3)" stroke-width="0.7"/>
<circle cx="606.7" cy="104.6" r="1.95" fill="rgba(0,0,0,0.55)" stroke="rgba(0,0,0,0.3)" stroke-width="0.7"/>
<circle cx="610.8" cy="218.9" r="1.95" fill="rgba(0,0,0,0.55)" stroke="rgba(0,0,0,0.3)" stroke-width="0.7"/>
<circle cx="613.9" cy="223.3" r="1.95" fill="rgba(0,0,0,0.55)" stroke="rgba(0,0,0,0.3)" stroke-width="0.7"/>
<circle cx="602.7" cy="226.0" r="1.95" fill="rgba(0,0,0,0.55)" stroke="rgba(0,0,0,0.3)" stroke-width="0.7"/>
<circle cx="605.9" cy="264.3" r="1.95" fill="rgba(0,0,0,0.55)" stroke="rgba(0,0,0,0.3)" stroke-width="0.7"/>
<circle cx="610.0" cy="267.3" r="1.95" fill="rgba(0,0,0,0.55)" stroke="rgba(0,0,0,0.3)" stroke-width="0.7"/>
<circle cx="608.2" cy="284.7" r="1.95" fill="rgba(0,0,0,0.55)" stroke="rgba(0,0,0,0.3)" stroke-width="0.7"/>
<circle cx="613.9" cy="283.3" r="1.95" fill="rgba(0,0,0,0.55)" stroke="rgba(0,0,0,0.3)" stroke-width="0.7"/>
<circle cx="604.7" cy="290.4" r="1.95" fill="rgba(0,0,0,0.55)" stroke="rgba(0,0,0,0.3)" stroke-width="0.7"/>
<circle cx="613.9" cy="290.4" r="1.95" fill="rgba(0,0,0,0.55)" stroke="rgba(0,0,0,0.3)" stroke-width="0.7"/>
<circle cx="607.8" cy="297.1" r="1.95" fill="rgba(0,0,0,0.55)" stroke="rgba(0,0,0,0.3)" stroke-width="0.7"/>
<circle cx="612.8" cy="301.0" r="1.95" fill="rgba(0,0,0,0.55)" stroke="rgba(0,0,0,0.3)" stroke-width="0.7"/>
<circle cx="603.7" cy="309.3" r="1.95" fill="rgba(0,0,0,0.55)" stroke="rgba(0,0,0,0.3)" stroke-width="0.7"/>
<circle cx="602.1" cy="311.7" r="1.95" fill="rgba(0,0,0,0.55)" stroke="rgba(0,0,0,0.3)" stroke-width="0.7"/>
<circle cx="605.1" cy="313.7" r="1.95" fill="rgba(0,0,0,0.55)" stroke="rgba(0,0,0,0.3)" stroke-width="0.7"/>
<circle cx="613.9" cy="320.8" r="1.95" fill="rgba(0,0,0,0.55)" stroke="rgba(0,0,0,0.3)" stroke-width="0.7"/>
<line x1="30.5" x2="30.5" y1="23.2" y2="329.85" stroke="#1e1e1e" stroke-width="1.12"/>
<line x1="30.0" x2="235.2" y1="329.35" y2="329.35" stroke="#1e1e1e" stroke-width="1.15"/>
<line x1="28.1" x2="30.5" y1="329.35" y2="329.35" stroke="#2b2b2b" stroke-width="1.07"/>
<text transform="translate(25.60,332.80) scale(0.92,1)" text-anchor="end" class="tk">0</text>
<line x1="28.1" x2="30.5" y1="271.30" y2="271.30" stroke="#2b2b2b" stroke-width="1.07"/>
<text transform="translate(25.60,274.75) scale(0.92,1)" text-anchor="end" class="tk">5</text>
<line x1="28.1" x2="30.5" y1="213.25" y2="213.25" stroke="#2b2b2b" stroke-width="1.07"/>
<text transform="translate(25.60,216.70) scale(0.92,1)" text-anchor="end" class="tk">10</text>
<line x1="28.1" x2="30.5" y1="155.20" y2="155.20" stroke="#2b2b2b" stroke-width="1.07"/>
<text transform="translate(25.60,158.65) scale(0.92,1)" text-anchor="end" class="tk">15</text>
<line x1="28.1" x2="30.5" y1="97.15" y2="97.15" stroke="#2b2b2b" stroke-width="1.07"/>
<text transform="translate(25.60,100.60) scale(0.92,1)" text-anchor="end" class="tk">20</text>
<line x1="28.1" x2="30.5" y1="39.10" y2="39.10" stroke="#2b2b2b" stroke-width="1.07"/>
<text transform="translate(25.60,42.55) scale(0.92,1)" text-anchor="end" class="tk">25</text>
<line x1="86.4" x2="86.4" y1="329.35" y2="331.75" stroke="#2b2b2b" stroke-width="1.07"/>
<text x="86.4" y="340.7" text-anchor="middle" class="xl">Prior to ASP</text>
<line x1="179.5" x2="179.5" y1="329.35" y2="331.75" stroke="#2b2b2b" stroke-width="1.07"/>
<text x="179.5" y="340.7" text-anchor="middle" class="xl">Following ASP</text>
<rect x="33.4" y="4.1" width="199.20" height="16.2" rx="6" ry="6" fill="#fff" stroke="#5a6d8c" stroke-width="1.1"/>
<text transform="translate(133.00,15.5) scale(0.967,1)" text-anchor="middle" class="st">Linezolid</text>
<line x1="256.1" x2="256.1" y1="23.2" y2="329.85" stroke="#1e1e1e" stroke-width="1.12"/>
<line x1="255.60000000000002" x2="460.9" y1="329.35" y2="329.35" stroke="#1e1e1e" stroke-width="1.15"/>
<line x1="253.70000000000002" x2="256.1" y1="277.40" y2="277.40" stroke="#2b2b2b" stroke-width="1.07"/>
<text transform="translate(251.20,280.85) scale(0.92,1)" text-anchor="end" class="tk">5</text>
<line x1="253.70000000000002" x2="256.1" y1="214.10" y2="214.10" stroke="#2b2b2b" stroke-width="1.07"/>
<text transform="translate(251.20,217.55) scale(0.92,1)" text-anchor="end" class="tk">10</text>
<line x1="253.70000000000002" x2="256.1" y1="150.80" y2="150.80" stroke="#2b2b2b" stroke-width="1.07"/>
<text transform="translate(251.20,154.25) scale(0.92,1)" text-anchor="end" class="tk">15</text>
<line x1="253.70000000000002" x2="256.1" y1="87.50" y2="87.50" stroke="#2b2b2b" stroke-width="1.07"/>
<text transform="translate(251.20,90.95) scale(0.92,1)" text-anchor="end" class="tk">20</text>
<line x1="253.70000000000002" x2="256.1" y1="24.20" y2="24.20" stroke="#2b2b2b" stroke-width="1.07"/>
<text transform="translate(251.20,27.65) scale(0.92,1)" text-anchor="end" class="tk">25</text>
<line x1="311.8" x2="311.8" y1="329.35" y2="331.75" stroke="#2b2b2b" stroke-width="1.07"/>
<text x="311.8" y="340.7" text-anchor="middle" class="xl">Prior to ASP</text>
<line x1="404.9" x2="404.9" y1="329.35" y2="331.75" stroke="#2b2b2b" stroke-width="1.07"/>
<text x="404.9" y="340.7" text-anchor="middle" class="xl">Following ASP</text>
<rect x="258.4" y="4.1" width="199.90" height="16.2" rx="6" ry="6" fill="#fff" stroke="#5a6d8c" stroke-width="1.1"/>
<text transform="translate(358.35,15.5) scale(0.967,1)" text-anchor="middle" class="st">Vancomycin</text>
<line x1="476.3" x2="476.3" y1="23.2" y2="329.85" stroke="#1e1e1e" stroke-width="1.12"/>
<line x1="475.8" x2="680.8" y1="329.35" y2="329.35" stroke="#1e1e1e" stroke-width="1.15"/>
<line x1="473.90000000000003" x2="476.3" y1="268.80" y2="268.80" stroke="#2b2b2b" stroke-width="1.07"/>
<text transform="translate(471.40,272.25) scale(0.92,1)" text-anchor="end" class="tk">2</text>
<line x1="473.90000000000003" x2="476.3" y1="191.58" y2="191.58" stroke="#2b2b2b" stroke-width="1.07"/>
<text transform="translate(471.40,195.03) scale(0.92,1)" text-anchor="end" class="tk">4</text>
<line x1="473.90000000000003" x2="476.3" y1="114.36" y2="114.36" stroke="#2b2b2b" stroke-width="1.07"/>
<text transform="translate(471.40,117.81) scale(0.92,1)" text-anchor="end" class="tk">6</text>
<line x1="473.90000000000003" x2="476.3" y1="37.14" y2="37.14" stroke="#2b2b2b" stroke-width="1.07"/>
<text transform="translate(471.40,40.59) scale(0.92,1)" text-anchor="end" class="tk">8</text>
<line x1="532.0" x2="532.0" y1="329.35" y2="331.75" stroke="#2b2b2b" stroke-width="1.07"/>
<text x="532.0" y="340.7" text-anchor="middle" class="xl">Prior to ASP</text>
<line x1="625.1" x2="625.1" y1="329.35" y2="331.75" stroke="#2b2b2b" stroke-width="1.07"/>
<text x="625.1" y="340.7" text-anchor="middle" class="xl">Following ASP</text>
<rect x="478.6" y="4.1" width="200.00" height="16.2" rx="6" ry="6" fill="#fff" stroke="#5a6d8c" stroke-width="1.1"/>
<text transform="translate(578.60,15.5) scale(0.967,1)" text-anchor="middle" class="st">Teicoplanin</text>
<text transform="translate(10.9,176.5) rotate(-90)" text-anchor="middle" class="yt">Total antibiotic consumption (grams)</text>
</svg>
</body></html>
